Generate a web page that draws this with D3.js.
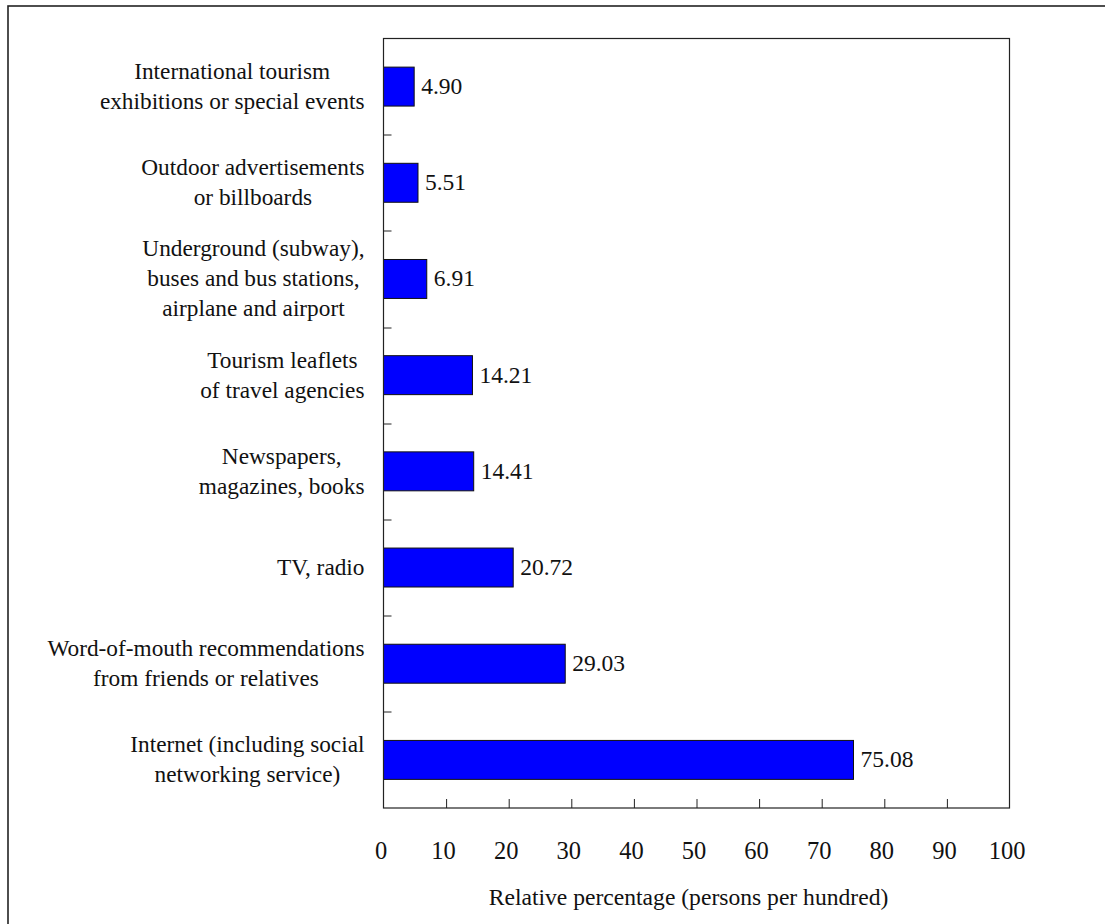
<!DOCTYPE html>
<html>
<head>
<meta charset="utf-8">
<script src="https://cdn.jsdelivr.net/npm/d3@7"></script>
<style>
  html, body { margin: 0; padding: 0; background: #fff; overflow: hidden; }
  svg text { font-family: "Liberation Serif", "Times New Roman", Times, "DejaVu Serif", serif; fill: #111; }
</style>
</head>
<body>
<svg class="chart"></svg>
<script>
// categories top to bottom, each label split into its lines
var categories = [
    ["International tourism", "exhibitions or special events"],
    ["Outdoor advertisements", "or billboards"],
    ["Underground (subway),", "buses and bus stations,", "airplane and airport"],
    ["Tourism leaflets", "of travel agencies"],
    ["Newspapers,", "magazines, books"],
    ["TV, radio"],
    ["Word-of-mouth recommendations", "from friends or relatives"],
    ["Internet (including social", "networking service)"]
];
var values = [4.90, 5.51, 6.91, 14.21, 14.41, 20.72, 29.03, 75.08];
var xTicks = [0, 10, 20, 30, 40, 50, 60, 70, 80, 90, 100];
var xTitle = "Relative percentage (persons per hundred)";

var W = 1105, H = 924;
var serif = "'Liberation Serif', 'Times New Roman', Times, 'DejaVu Serif', serif";
var margin = {top: 38.5, right: 96, bottom: 116, left: 383.5},
    width = 1009.5 - margin.left,
    height = 808 - margin.top;

var svg = d3.select(".chart")
    .attr("width", W)
    .attr("height", H)
    .attr("font-family", serif);

// outer frame (only top and left edges fall inside the picture)
svg.append("rect")
    .attr("x", 8).attr("y", 6)
    .attr("width", W + 20).attr("height", H + 20)
    .attr("fill", "none")
    .attr("stroke", "#222")
    .attr("stroke-width", 1.6);

var g = svg.append("g")
    .attr("transform", "translate(" + margin.left + "," + margin.top + ")");

var x = d3.scaleLinear().domain([0, 100]).range([0, width]);
var y = d3.scaleBand()
    .domain(d3.range(categories.length))
    .range([0, height])
    .paddingInner(0.595)
    .paddingOuter(0.2975);
var band = height / categories.length;

// bars
g.selectAll("rect.bar")
    .data(values)
    .enter()
    .append("rect")
    .attr("class", "bar")
    .attr("x", 0)
    .attr("y", function(d, i) { return y(i); })
    .attr("width", function(d) { return x(d); })
    .attr("height", y.bandwidth())
    .attr("fill", "#0000ff")
    .attr("stroke", "#111")
    .attr("stroke-width", 1);

// value labels
g.selectAll("text.val")
    .data(values)
    .enter()
    .append("text")
    .attr("class", "val")
    .attr("x", function(d) { return x(d) + 7; })
    .attr("y", function(d, i) { return y(i) + y.bandwidth() / 2; })
    .attr("dy", "0.32em")
    .style("font-family", serif)
    .style("font-size", "23.5px")
    .text(function(d) { return d.toFixed(2); });

// plot frame
g.append("rect")
    .attr("width", width).attr("height", height)
    .attr("fill", "none")
    .attr("stroke", "#222")
    .attr("stroke-width", 1.2);

// y ticks at band boundaries, pointing inward
g.selectAll("line.ytick")
    .data(d3.range(1, categories.length))
    .enter()
    .append("line")
    .attr("class", "ytick")
    .attr("x1", 0).attr("x2", 8)
    .attr("y1", function(d) { return Math.round(d * band) + 0.5; })
    .attr("y2", function(d) { return Math.round(d * band) + 0.5; })
    .attr("stroke", "#222");

// x axis: inward ticks, labels below
var xAxis = d3.axisBottom(x)
    .tickValues(xTicks)
    .tickSize(-9)
    .tickPadding(0)
    .tickFormat(d3.format("d"));
var axisGroup = g.append("g")
    .attr("class", "x axis")
    .attr("transform", "translate(0," + height + ")")
    .call(xAxis)
    .attr("font-family", serif);
axisGroup.select(".domain").remove();
axisGroup.selectAll(".tick line")
    .attr("stroke", "#222")
    .attr("opacity", function(d) { return (d === 0 || d === 100) ? 0 : 1; });
axisGroup.selectAll(".tick text")
    .attr("y", 51)
    .attr("dy", 0)
    .attr("dx", -3)
    .style("font-size", "24.5px")
    .style("font-family", serif)
    .attr("fill", "#111");

// x axis title
g.append("text")
    .attr("x", 305)
    .attr("y", height + 97)
    .attr("text-anchor", "middle")
    .style("font-family", serif)
    .style("font-size", "23.6px")
    .text(xTitle);

// category labels: block right-aligned to the axis, lines centred inside block
var lineH = 30, labelRight = -19;
categories.forEach(function(lines, i) {
    var lab = g.append("text")
        .attr("text-anchor", "middle")
        .style("font-family", serif)
        .style("font-size", "23.3px");
    var cy = y(i) + y.bandwidth() / 2;
    lines.forEach(function(s, k) {
        lab.append("tspan")
            .attr("y", cy + (k - (lines.length - 1) / 2) * lineH)
            .attr("dy", "0.32em")
            .text(s);
    });
    var maxW = d3.max(lab.selectAll("tspan").nodes(), function(n) { return n.getComputedTextLength(); });
    lab.selectAll("tspan").attr("x", labelRight - maxW / 2);
});
</script>
</body>
</html>
